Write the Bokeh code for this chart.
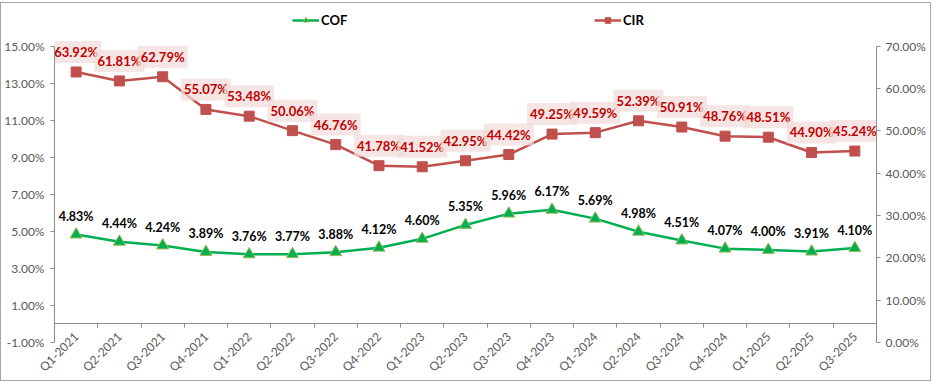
import math
from bokeh.plotting import figure
from bokeh.models import (Range1d, LinearAxis, FixedTicker, PrintfTickFormatter,
                          ColumnDataSource, Legend, LegendItem)
from bokeh.core.properties import value
from bokeh.embed import file_html
from bokeh.resources import INLINE

quarters = ["Q1-2021", "Q2-2021", "Q3-2021", "Q4-2021",
            "Q1-2022", "Q2-2022", "Q3-2022", "Q4-2022",
            "Q1-2023", "Q2-2023", "Q3-2023", "Q4-2023",
            "Q1-2024", "Q2-2024", "Q3-2024", "Q4-2024",
            "Q1-2025", "Q2-2025", "Q3-2025"]
cof = [4.83, 4.44, 4.24, 3.89, 3.76, 3.77, 3.88, 4.12, 4.60, 5.35,
       5.96, 6.17, 5.69, 4.98, 4.51, 4.07, 4.00, 3.91, 4.10]
cir = [63.92, 61.81, 62.79, 55.07, 53.48, 50.06, 46.76, 41.78, 41.52, 42.95,
       44.42, 49.25, 49.59, 52.39, 50.91, 48.76, 48.51, 44.90, 45.24]
left_ticks = [-1, 1, 3, 5, 7, 9, 11, 13, 15]
right_ticks = [0, 10, 20, 30, 40, 50, 60, 70]

FONT = "Lato"
GRAY_TXT = "#595959"
AXIS_COL = "#8c8c8c"
GREEN = "#00b050"
RED = "#c0504d"

# layout (pixels)
W, H = 931, 379
B_LEFT, B_RIGHT, B_TOP, B_BOTTOM = 52, 56, 4, 38
AXIS_PX = 298                      # pixel span of the value axes
frame_h = H - B_TOP - B_BOTTOM
stretch = frame_h / AXIS_PX        # room above the axes for the legend

n = len(quarters)
xs = [i + 0.5 for i in range(n)]
src = ColumnDataSource(dict(
    x=xs, cof=cof, cir=cir,
    cof_txt=[f"{v:.2f}%" for v in cof],
    cir_txt=[f"{v:.2f}%" for v in cir],
))

l0, l1 = left_ticks[0], left_ticks[-1]
r0, r1 = right_ticks[0], right_ticks[-1]
p = figure(width=W, height=H, output_backend="svg", toolbar_location=None,
           x_range=Range1d(0, n),
           y_range=Range1d(l0, l0 + (l1 - l0) * stretch),
           min_border_left=B_LEFT, min_border_right=B_RIGHT,
           min_border_top=B_TOP, min_border_bottom=B_BOTTOM,
           margin=(2, 0, 0, 0),
           styles={"border": "1px solid #a6a6a6", "box-sizing": "border-box"})
p.extra_y_ranges = {"right": Range1d(r0, r0 + (r1 - r0) * stretch)}
p.outline_line_color = None
p.xgrid.visible = False
p.ygrid.visible = False
p.background_fill_color = "white"
p.border_fill_color = "white"

# category labels: ordinary bottom axis, raised under the zero line
xa = p.xaxis[0]
xa.ticker = FixedTicker(ticks=xs)
xa.major_label_overrides = {x: q for x, q in zip(xs, quarters)}
xa.major_label_orientation = math.pi / 4
xa.major_tick_out = 0
xa.major_tick_in = 0
xa.minor_tick_out = 0
xa.minor_tick_in = 0
xa.axis_line_color = None
xa.major_label_standoff = -8
xa.major_label_text_font = FONT
xa.major_label_text_font_size = "12px"
xa.major_label_text_color = GRAY_TXT

# zero line with separators between categories
za = LinearAxis(fixed_location=0,
                ticker=FixedTicker(ticks=xs, minor_ticks=list(range(n + 1))))
za.major_label_text_alpha = 0
za.major_tick_out = 0
za.major_tick_in = 0
za.minor_tick_out = 4
za.minor_tick_in = 0
za.minor_tick_line_color = AXIS_COL
za.axis_line_color = AXIS_COL
p.add_layout(za, "below")

ya = p.yaxis[0]
ya.ticker = FixedTicker(ticks=left_ticks)
ya.bounds = (l0, l1)
ya.formatter = PrintfTickFormatter(format="%.2f%%")
ya.major_tick_out = 4
ya.major_tick_in = 0
ya.minor_tick_out = 0
ya.minor_tick_in = 0
ya.axis_line_color = AXIS_COL
ya.major_tick_line_color = AXIS_COL
ya.major_label_standoff = 6
ya.major_label_text_font = FONT
ya.major_label_text_font_size = "12px"
ya.major_label_text_color = GRAY_TXT

ra = LinearAxis(y_range_name="right", ticker=FixedTicker(ticks=right_ticks),
                formatter=PrintfTickFormatter(format="%.2f%%"), bounds=(r0, r1))
ra.major_tick_out = 4
ra.major_tick_in = 0
ra.minor_tick_out = 0
ra.minor_tick_in = 0
ra.axis_line_color = AXIS_COL
ra.major_tick_line_color = AXIS_COL
ra.major_label_standoff = 5
ra.major_label_text_font = FONT
ra.major_label_text_font_size = "12px"
ra.major_label_text_color = GRAY_TXT
p.add_layout(ra, "right")

# COF series (left axis)
cof_line = p.line("x", "cof", source=src, line_color=GREEN, line_width=2.5)
cof_sc = p.scatter("x", "cof", source=src, marker="triangle", size=12,
                   fill_color=GREEN, line_color="#9bbb59", line_width=1)
p.text("x", "cof", text="cof_txt", source=src, y_offset=-18,
       text_align="center", text_baseline="middle", text_color="black",
       text_font=value(FONT), text_font_size="12.5px", text_font_style="bold")

# CIR series (right axis)
cir_line = p.line("x", "cir", source=src, y_range_name="right",
                  line_color=RED, line_width=2.5)
cir_sc = p.scatter("x", "cir", source=src, y_range_name="right", marker="square",
                   size=10, fill_color=RED, line_color=RED)
p.text("x", "cir", text="cir_txt", source=src, y_range_name="right", y_offset=-20,
       text_align="center", text_baseline="middle", text_color="#c00000",
       text_font=value(FONT), text_font_size="13px", text_font_style="bold",
       background_fill_color="#f2dcdb", background_fill_alpha=0.75, padding=3)

def make_legend(label, renderers, loc):
    return Legend(items=[LegendItem(label=label, renderers=renderers)],
                  location=loc, padding=0, margin=0, border_line_color=None,
                  background_fill_alpha=0, glyph_width=27, glyph_height=14,
                  label_standoff=2, label_text_font=FONT,
                  label_text_font_size="13px", label_text_font_style="bold",
                  label_text_color="black")

p.add_layout(make_legend("COF", [cof_line, cof_sc], (238, 314)))
p.add_layout(make_legend("CIR", [cir_line, cir_sc], (540, 314)))

open("out.html", "w").write(file_html(p, INLINE))
